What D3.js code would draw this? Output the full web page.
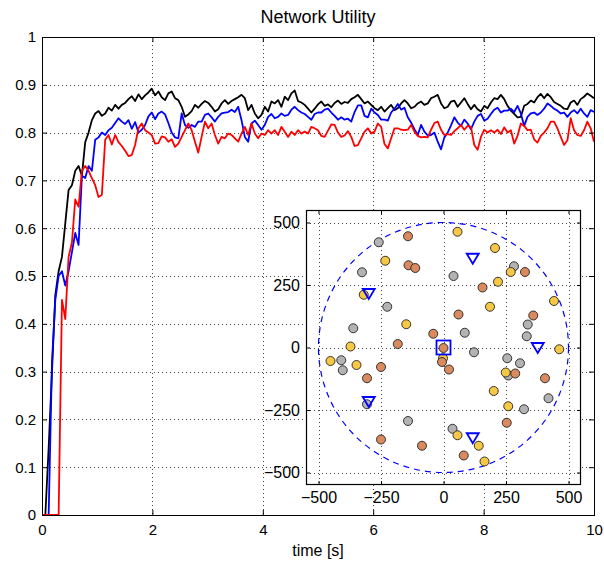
<!DOCTYPE html>
<html>
<head>
<meta charset="utf-8">
<script src="https://cdn.jsdelivr.net/npm/d3@7"></script>
<style>
  body { margin: 0; background: #fff; }
  svg { display: block; }
  text { font-family: "Liberation Sans", Arial, Helvetica, sans-serif; fill: #000; }
</style>
</head>
<body>
<svg id="chart" width="604" height="565"></svg>
<script>
// ---- network utility over time (sampled every 10/166 s) ----
const sampleStep = 10 / 166;

const blackUtility = [
  0, 0, 0.14, 0.30, 0.46, 0.51, 0.54, 0.61, 0.68, 0.69, 0.72, 0.73, 0.71, 0.78, 0.80, 0.826, 0.84, 0.845, 0.835, 0.84, 0.852, 0.846, 0.858, 0.85,
  0.858, 0.862, 0.87, 0.876, 0.866, 0.88, 0.87, 0.878, 0.884, 0.892, 0.878, 0.886, 0.874, 0.868, 0.882, 0.886,
  0.872, 0.868, 0.854, 0.833, 0.838, 0.845, 0.858, 0.852, 0.86, 0.866, 0.862, 0.854, 0.844, 0.849, 0.861, 0.868, 0.86, 0.866, 0.87, 0.874,
  0.879, 0.872, 0.847, 0.858, 0.84, 0.83, 0.837, 0.854, 0.844, 0.865, 0.861, 0.868, 0.854, 0.875, 0.868, 0.882, 0.888, 0.866, 0.863, 0.858, 0.85,
  0.842, 0.85, 0.859, 0.865, 0.856, 0.859, 0.853, 0.862, 0.867, 0.86, 0.864, 0.862, 0.87, 0.874, 0.879, 0.87, 0.861, 0.865, 0.858, 0.851,
  0.847, 0.854, 0.844, 0.851, 0.858, 0.847, 0.851, 0.861, 0.868, 0.861, 0.851, 0.854, 0.861, 0.865, 0.858, 0.861, 0.872, 0.875, 0.879, 0.861, 0.851, 0.854,
  0.865, 0.867, 0.854, 0.863, 0.872, 0.86, 0.849, 0.858, 0.849, 0.844, 0.856, 0.851, 0.863, 0.872, 0.87, 0.879, 0.87, 0.856, 0.846, 0.839, 0.832, 0.833,
  0.856, 0.86, 0.867, 0.863, 0.874, 0.881, 0.872, 0.881, 0.874, 0.864, 0.86, 0.856, 0.85, 0.849, 0.863, 0.867, 0.858, 0.87, 0.875, 0.882, 0.877, 0.872
];

const blueUtility = [
  0, 0, 0, 0.32, 0.45, 0.50, 0.51, 0.48, 0.51, 0.55, 0.59, 0.565, 0.71, 0.705, 0.73, 0.72, 0.785, 0.79, 0.80, 0.795, 0.805, 0.81, 0.82, 0.83,
  0.823, 0.818, 0.826, 0.808, 0.822, 0.800, 0.806, 0.816, 0.834, 0.842, 0.828, 0.84, 0.844, 0.838, 0.82, 0.80,
  0.79, 0.788, 0.84, 0.816, 0.81, 0.816, 0.812, 0.823, 0.823, 0.837, 0.84, 0.832, 0.823, 0.833, 0.84, 0.842, 0.843, 0.848, 0.843, 0.854,
  0.826, 0.791, 0.781, 0.819, 0.825, 0.816, 0.806, 0.816, 0.833, 0.839, 0.83, 0.833, 0.84, 0.835, 0.837, 0.848, 0.854, 0.847, 0.842, 0.839, 0.833,
  0.827, 0.839, 0.842, 0.842, 0.848, 0.85, 0.842, 0.835, 0.827, 0.832, 0.827, 0.829, 0.823, 0.843, 0.857, 0.857, 0.835, 0.832, 0.85, 0.842,
  0.837, 0.827, 0.827, 0.825, 0.842, 0.85, 0.86, 0.848, 0.852, 0.832, 0.821, 0.807, 0.795, 0.816, 0.802, 0.794, 0.795, 0.8, 0.781, 0.765, 0.79, 0.8,
  0.815, 0.832, 0.821, 0.814, 0.827, 0.819, 0.807, 0.823, 0.835, 0.839, 0.825, 0.829, 0.839, 0.848, 0.852, 0.842, 0.846, 0.846, 0.85, 0.843, 0.856, 0.84,
  0.814, 0.833, 0.84, 0.842, 0.837, 0.842, 0.85, 0.861, 0.856, 0.85, 0.846, 0.84, 0.842, 0.833, 0.842, 0.847, 0.84, 0.85, 0.84, 0.833, 0.847, 0.843
];

const redUtility = [
  0, 0, 0, 0, 0, 0, 0.45, 0.41, 0.54, 0.57, 0.66, 0.645, 0.72, 0.73, 0.72, 0.705, 0.69, 0.665, 0.67, 0.785, 0.795, 0.775, 0.795, 0.78,
  0.772, 0.762, 0.751, 0.753, 0.774, 0.809, 0.819, 0.805, 0.80, 0.795, 0.777, 0.778, 0.792, 0.79, 0.781, 0.786,
  0.77, 0.777, 0.791, 0.805, 0.819, 0.805, 0.781, 0.758, 0.791, 0.823, 0.809, 0.819, 0.795, 0.777, 0.791, 0.788, 0.798, 0.795, 0.788, 0.781,
  0.798, 0.812, 0.795, 0.819, 0.798, 0.788, 0.798, 0.795, 0.805, 0.798, 0.805, 0.795, 0.812, 0.802, 0.791, 0.802, 0.795, 0.805, 0.798, 0.802, 0.798,
  0.812, 0.809, 0.805, 0.793, 0.791, 0.804, 0.817, 0.816, 0.80, 0.791, 0.794, 0.803, 0.791, 0.772, 0.774, 0.788, 0.802, 0.809, 0.798, 0.802,
  0.819, 0.812, 0.776, 0.767, 0.788, 0.809, 0.809, 0.806, 0.805, 0.806, 0.816, 0.802, 0.793, 0.79, 0.791, 0.79, 0.806, 0.82, 0.823, 0.806, 0.795, 0.797,
  0.795, 0.803, 0.809, 0.816, 0.806, 0.814, 0.812, 0.774, 0.764, 0.791, 0.806, 0.80, 0.805, 0.80, 0.806, 0.797, 0.811, 0.80, 0.805, 0.777, 0.793, 0.819,
  0.814, 0.805, 0.806, 0.786, 0.779, 0.793, 0.80, 0.809, 0.823, 0.823, 0.809, 0.791, 0.774, 0.784, 0.83, 0.805, 0.795, 0.793, 0.805, 0.823, 0.809, 0.781
];

const timeTicks = [0, 2, 4, 6, 8, 10];
const utilityTicks = [0, 0.1, 0.2, 0.3, 0.4, 0.5, 0.6, 0.7, 0.8, 0.9, 1];
const utilityTickLabels = ["0", "0.1", "0.2", "0.3", "0.4", "0.5", "0.6", "0.7", "0.8", "0.9", "1"];

// ---- network layout (metres) ----
const grayNodesX   = [-259, 282, -326, 40, -225, 337, -361, 85, 333, 122, -409, 255, 306, -403, 259, 420, -306, 322, -142, 36];
const grayNodesY   = [421, 325, 301, 286, 163, 92, 77, 59, 45, -19, -51, -43, -63, -91, -112, -203, -227, -247, -294, -325];
const yellowNodesX = [56, 206, -233, 269, 218, -319, 442, 186, -149, -372, 463, -2, -452, -348, 249, 201, 259, 56, 141, 164];
const yellowNodesY = [463, 398, 347, 302, 263, 211, 186, 163, 93, 4, -7, -43, -54, -70, -100, -174, -235, -351, -393, -456];
const orangeNodesX = [-142, -140, -113, 326, 156, 60, 359, -41, -183, 0, -6, 22, -250, 287, -306, 406, 253, -250, -86, 81];
const orangeNodesY = [445, 329, 318, 302, 240, 132, 128, 55, 14, -2, -58, -88, -78, -104, -123, -123, -301, -368, -393, -432];
const relayX = [117, -299, 377, -299, 117];
const relayY = [357, 216, 0, -216, -361];
const sinkX = [0];
const sinkY = [0];
const cellRadius = 500;
const mapTicks = [-500, -250, 0, 250, 500];

// ---- drawing ----
const svg = d3.select("#chart");
const plot = { left: 42, right: 594, top: 37, bottom: 515 };

const x = d3.scaleLinear().domain([0, 10]).range([plot.left, plot.right]);
const y = d3.scaleLinear().domain([0, 1]).range([plot.bottom, plot.top]);
const time = blackUtility.map((_, i) => i * sampleStep);

// dotted grid
const grid = svg.append("g").attr("stroke", "#444").attr("stroke-width", 1).attr("stroke-dasharray", "1,3");
grid.selectAll(".gx").data(timeTicks.slice(1, -1)).join("line")
  .attr("x1", d => Math.round(x(d)) + 0.5).attr("x2", d => Math.round(x(d)) + 0.5)
  .attr("y1", plot.top).attr("y2", plot.bottom);
grid.selectAll(".gy").data(utilityTicks.slice(1, -1)).join("line")
  .attr("y1", d => Math.round(y(d)) + 0.5).attr("y2", d => Math.round(y(d)) + 0.5)
  .attr("x1", plot.left).attr("x2", plot.right);

// utility curves
const line = d3.line().x((d, i) => x(time[i])).y(d => y(d));
[[blackUtility, "#000000"], [blueUtility, "#0000ff"], [redUtility, "#ff0000"]].forEach(([series, color]) => {
  svg.append("path").datum(series)
    .attr("fill", "none").attr("stroke", color).attr("stroke-width", 1.8)
    .attr("stroke-linejoin", "round").attr("d", line);
});

function styleAxis(g, fontSize) {
  g.select(".domain").remove();
  g.selectAll(".tick line").attr("stroke", "#000");
  g.selectAll(".tick text").attr("font-size", fontSize).attr("fill", "#000")
    .attr("font-family", "Liberation Sans, Arial, sans-serif");
}

// main axes with inward ticks on all four sides
svg.append("g").attr("transform", `translate(0,${plot.bottom})`)
  .call(d3.axisBottom(x).tickValues(timeTicks).tickSizeInner(-5).tickSizeOuter(0).tickPadding(9).tickFormat(d => String(d)))
  .call(g => styleAxis(g, 15));
svg.append("g").attr("transform", `translate(0,${plot.top})`)
  .call(d3.axisTop(x).tickValues(timeTicks).tickSizeInner(-5).tickSizeOuter(0).tickFormat(""))
  .call(g => styleAxis(g, 15));
svg.append("g").attr("transform", `translate(${plot.left},0)`)
  .call(d3.axisLeft(y).tickValues(utilityTicks).tickSizeInner(-5).tickSizeOuter(0).tickPadding(6)
    .tickFormat((d, i) => utilityTickLabels[i]))
  .call(g => styleAxis(g, 15));
svg.append("g").attr("transform", `translate(${plot.right},0)`)
  .call(d3.axisRight(y).tickValues(utilityTicks).tickSizeInner(-5).tickSizeOuter(0).tickFormat(""))
  .call(g => styleAxis(g, 15));

svg.append("rect")
  .attr("x", plot.left + 0.5).attr("y", plot.top + 0.5)
  .attr("width", plot.right - plot.left).attr("height", plot.bottom - plot.top)
  .attr("fill", "none").attr("stroke", "#000").attr("stroke-width", 1);

svg.append("text").attr("x", (plot.left + plot.right) / 2).attr("y", 23)
  .attr("text-anchor", "middle").attr("font-size", 18).text("Network Utility");
svg.append("text").attr("x", (plot.left + plot.right) / 2).attr("y", 556)
  .attr("text-anchor", "middle").attr("font-size", 16).text("time [s]");

// ---- inset: node map ----
const map = { left: 306, right: 581, top: 210, bottom: 485 };
const mx = d3.scaleLinear().domain([-550, 550]).range([map.left, map.right]);
const my = d3.scaleLinear().domain([-550, 550]).range([map.bottom, map.top]);

const inset = svg.append("g");
inset.append("rect")
  .attr("x", map.left).attr("y", map.top)
  .attr("width", map.right - map.left).attr("height", map.bottom - map.top)
  .attr("fill", "#fff");

const mgrid = inset.append("g").attr("stroke", "#444").attr("stroke-width", 1).attr("stroke-dasharray", "1,3");
mgrid.selectAll(".vx").data(mapTicks).join("line")
  .attr("x1", d => Math.round(mx(d)) + 0.5).attr("x2", d => Math.round(mx(d)) + 0.5)
  .attr("y1", map.top).attr("y2", map.bottom);
mgrid.selectAll(".hy").data(mapTicks).join("line")
  .attr("y1", d => Math.round(my(d)) + 0.5).attr("y2", d => Math.round(my(d)) + 0.5)
  .attr("x1", map.left).attr("x2", map.right);

// coverage boundary
inset.append("ellipse")
  .attr("cx", mx(0)).attr("cy", my(0))
  .attr("rx", mx(cellRadius) - mx(0)).attr("ry", my(0) - my(cellRadius))
  .attr("fill", "none").attr("stroke", "#0000ff").attr("stroke-width", 1.2)
  .attr("stroke-dasharray", "6,5");

function drawNodes(xs, ys, fill) {
  inset.append("g").selectAll("circle").data(xs).join("circle")
    .attr("cx", d => mx(d)).attr("cy", (d, i) => my(ys[i])).attr("r", 4.5)
    .attr("fill", fill).attr("stroke", "#222").attr("stroke-width", 0.9);
}
drawNodes(grayNodesX, grayNodesY, "#b3b3b3");
drawNodes(yellowNodesX, yellowNodesY, "#f7c846");
drawNodes(orangeNodesX, orangeNodesY, "#d98a5e");

// relays (down triangles) and sink (square)
inset.append("g").selectAll("path").data(relayX).join("path")
  .attr("transform", (d, i) => `translate(${mx(d)},${my(relayY[i])})`)
  .attr("d", "M-6,-4.5 L6,-4.5 L0,5.5 Z")
  .attr("fill", "none").attr("stroke", "#0000ff").attr("stroke-width", 1.8);
inset.append("g").selectAll("rect").data(sinkX).join("rect")
  .attr("x", d => mx(d) - 7).attr("y", (d, i) => my(sinkY[i]) - 7)
  .attr("width", 14).attr("height", 14)
  .attr("fill", "none").attr("stroke", "#0000ff").attr("stroke-width", 1.8);

inset.append("g").attr("transform", `translate(0,${map.bottom})`)
  .call(d3.axisBottom(mx).tickValues(mapTicks).tickSizeInner(-4).tickSizeOuter(0).tickPadding(7))
  .call(g => styleAxis(g, 16));
inset.append("g").attr("transform", `translate(0,${map.top})`)
  .call(d3.axisTop(mx).tickValues(mapTicks).tickSizeInner(-4).tickSizeOuter(0).tickFormat(""))
  .call(g => styleAxis(g, 16));
inset.append("g").attr("transform", `translate(${map.left},0)`)
  .call(d3.axisLeft(my).tickValues(mapTicks).tickSizeInner(-4).tickSizeOuter(0).tickPadding(6))
  .call(g => styleAxis(g, 16));
inset.append("g").attr("transform", `translate(${map.right},0)`)
  .call(d3.axisRight(my).tickValues(mapTicks).tickSizeInner(-4).tickSizeOuter(0).tickFormat(""))
  .call(g => styleAxis(g, 16));

inset.append("rect")
  .attr("x", map.left + 0.5).attr("y", map.top + 0.5)
  .attr("width", map.right - map.left - 1).attr("height", map.bottom - map.top - 1)
  .attr("fill", "none").attr("stroke", "#000").attr("stroke-width", 1.2);
</script>
</body>
</html>
